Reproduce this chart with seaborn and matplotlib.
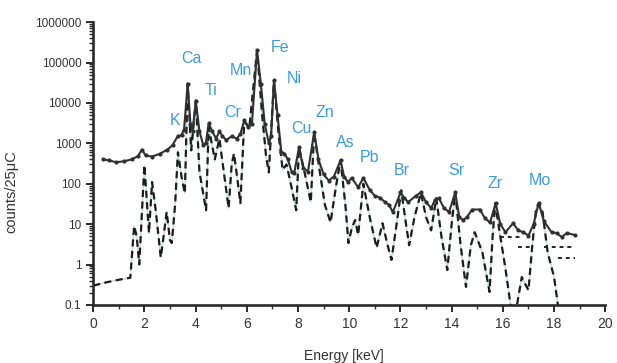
import numpy as np
import pandas as pd
import seaborn as sns
import matplotlib.pyplot as plt
from matplotlib.ticker import FixedLocator, FuncFormatter, LogLocator, NullFormatter

# measured spectrum (dots)
energy_meas = [0.4, 0.6, 0.9, 1.2, 1.5, 1.75, 1.9, 2.05, 2.3, 2.6, 2.9, 3.1, 3.3, 3.45,
               3.55, 3.69, 3.8, 3.88, 4.01, 4.15, 4.3, 4.4, 4.51, 4.65, 4.8, 4.93, 5.05,
               5.2, 5.41, 5.6, 5.75, 5.9, 6.05, 6.2, 6.4, 6.55, 6.7, 6.86, 6.95, 7.06,
               7.2, 7.35, 7.47, 7.6, 7.75, 7.85, 8.04, 8.2, 8.39, 8.63, 8.8, 9.0, 9.2,
               9.4, 9.66, 9.8, 9.95, 10.1, 10.35, 10.55, 10.8, 11.0, 11.2, 11.4, 11.55,
               11.7, 11.9, 12.0, 12.15, 12.3, 12.6, 12.8, 13.0, 13.2, 13.35, 13.5, 13.7,
               13.9, 14.14, 14.3, 14.45, 14.6, 14.8, 15.1, 15.3, 15.5, 15.72, 15.9, 16.1,
               16.4, 16.6, 16.8, 17.0, 17.2, 17.4, 17.6, 17.9, 18.1, 18.3, 18.5, 18.8]
counts_meas = [400, 380, 340, 360, 400, 480, 700, 500, 470, 550, 700, 900, 1500, 1600,
               2200, 30000, 3000, 2000, 11000, 2000, 900, 1000, 3100, 2000, 1300, 2000, 1500,
               1200, 1500, 1300, 1700, 3700, 2500, 3000, 200000, 30000, 3000, 1000, 1500, 36000,
               5000, 600, 560, 400, 200, 180, 800, 250, 200, 1860, 400, 170, 120,
               150, 380, 150, 110, 140, 81, 140, 70, 50, 45, 35, 30,
               20, 40, 61, 45, 35, 50, 61, 35, 25, 40, 44, 25,
               20, 61, 15, 12.6, 15, 23, 23, 14, 11, 33, 10, 6.3,
               10.5, 7, 6.3, 5.2, 10, 33, 12, 6.3, 6, 4.8, 6, 5.4]

# calculated spectrum (dashed)
energy_calc = [0.0, 0.5, 1.0, 1.45, 1.6, 1.7, 1.8, 2.0, 2.18, 2.3, 2.45, 2.64, 2.75, 2.87,
               3.0, 3.07, 3.2, 3.31, 3.45, 3.58, 3.69, 3.83, 4.01, 4.15, 4.41, 4.51, 4.75,
               4.93, 5.1, 5.29, 5.41, 5.5, 5.62, 5.75, 5.9, 6.1, 6.4, 6.6, 6.75, 6.86,
               7.06, 7.25, 7.4, 7.55, 7.75, 7.93, 8.04, 8.25, 8.5, 8.63, 8.85, 9.05, 9.27,
               9.5, 9.66, 9.85, 9.97, 10.1, 10.23, 10.35, 10.55, 10.8, 11.07, 11.3, 11.5,
               11.65, 11.85, 12.03, 12.2, 12.34, 12.55, 12.8, 13.0, 13.2, 13.4, 13.6, 13.83,
               14.0, 14.14, 14.35, 14.56, 14.75, 14.9, 15.2, 15.48, 15.6, 15.7, 15.9, 16.1,
               16.3, 16.45, 16.6, 16.74, 16.85, 17.0, 17.15, 17.3, 17.4, 17.55, 17.75, 18.0,
               18.15, 18.25]
counts_calc = [0.3, 0.36, 0.42, 0.47, 9, 5, 1.0, 290, 6, 110, 20, 1.5, 5, 20,
               4, 3.4, 30, 600, 150, 58, 30000, 670, 11500, 200, 22, 2500, 400,
               1300, 200, 25, 300, 560, 150, 33, 3500, 2500, 200000, 5000, 500, 190,
               36000, 1500, 220, 300, 80, 22, 800, 200, 35, 1860, 200, 30, 11,
               100, 380, 30, 3.4, 8, 12.6, 5.4, 100, 15, 2.6, 10.5, 3,
               1.3, 10, 69, 12, 3.0, 15, 59, 15, 7, 44, 5, 0.73,
               10, 61, 3, 0.28, 3, 6.3, 2, 0.21, 5, 33, 5, 0.8,
               0.1, 0.04, 0.15, 0.49, 0.35, 0.23, 3, 25, 33, 20, 2, 0.49,
               0.1, 0.05]

# short flat pieces in the high-energy tail
tail_start = [15.9, 16.6, 17.6, 18.15]
tail_end = [16.75, 17.1, 18.8, 18.8]
tail_level = [4.8, 2.7, 2.7, 1.45]

elements = ["K", "Ca", "Ti", "Cr", "Mn", "Fe", "Ni", "Cu", "Zn", "As", "Pb", "Br", "Sr", "Zr", "Mo"]
elem_x = [3.18, 3.83, 4.6, 5.44, 5.75, 7.28, 7.85, 8.12, 9.04, 9.85, 10.8, 12.07, 14.2, 15.7, 17.43]
elem_y = [3700, 125000, 20000, 5900, 63000, 235000, 40000, 2350, 5900, 1050, 450, 215, 215, 103, 122]

meas = pd.DataFrame({"energy": energy_meas, "counts": counts_meas})
calc = pd.DataFrame({"energy": energy_calc, "counts": counts_calc})
tail = pd.DataFrame({
    "energy": tail_start + tail_end,
    "counts": tail_level + tail_level,
    "seg": list(range(len(tail_start))) * 2,
})

sns.set_style("ticks")
plt.rcParams["font.family"] = ["Liberation Sans", "DejaVu Sans"]

fig = plt.figure(figsize=(6.17, 3.63), dpi=100)
ax = fig.add_axes([0.151, 0.160, 0.830, 0.779])

sns.lineplot(data=calc, x="energy", y="counts", ax=ax, color="#c9dcd8", lw=1.1, sort=False)
sns.lineplot(data=calc, x="energy", y="counts", ax=ax, color="#1c1c1c", lw=1.6,
             linestyle=(0, (3.2, 2.0)), sort=False)
sns.lineplot(data=meas, x="energy", y="counts", ax=ax, color="#303030", lw=1.5,
             marker="o", markersize=3.0, markeredgewidth=0, sort=False)
sns.lineplot(data=tail, x="energy", y="counts", units="seg", estimator=None, ax=ax,
             color="#222222", lw=1.4, linestyle=(0, (2, 2)))

for name, ex, ey in zip(elements, elem_x, elem_y):
    ax.text(ex, ey, name, color="#3f9ad8", fontsize=11.5, ha="center", va="center")

ax.set_yscale("log")
ax.set_xlim(0, 20)
ax.set_ylim(0.1, 1e6)

ax.xaxis.set_major_locator(FixedLocator(np.arange(0, 21, 2)))
ax.xaxis.set_minor_locator(FixedLocator(np.arange(1, 20, 2)))
ax.yaxis.set_major_locator(LogLocator(base=10, numticks=10))
ax.yaxis.set_minor_locator(LogLocator(base=10, subs=np.arange(2, 10), numticks=20))
ax.yaxis.set_minor_formatter(NullFormatter())
ax.yaxis.set_major_formatter(FuncFormatter(lambda v, p: "0.1" if v < 1 else f"{int(round(v))}"))

for s in ["top", "right"]:
    ax.spines[s].set_visible(False)
for s in ["left", "bottom"]:
    ax.spines[s].set_linewidth(1.9)
    ax.spines[s].set_color("#2a2a2a")

ax.tick_params(axis="both", which="major", length=5, width=1.4, color="#2a2a2a",
               labelsize=8.5, labelcolor="#333333")
ax.tick_params(axis="both", which="minor", length=3, width=1.0, color="#2a2a2a")
ax.tick_params(axis="x", labelsize=10)

ax.set_xlabel("Energy [keV]", fontsize=10, color="#333333")
ax.set_ylabel("counts/25μC", fontsize=10.5, color="#333333")
ax.xaxis.set_label_coords(0.49, -0.155)
ax.yaxis.set_label_coords(-0.146, 0.40)

fig.savefig("out.png", dpi=100)
